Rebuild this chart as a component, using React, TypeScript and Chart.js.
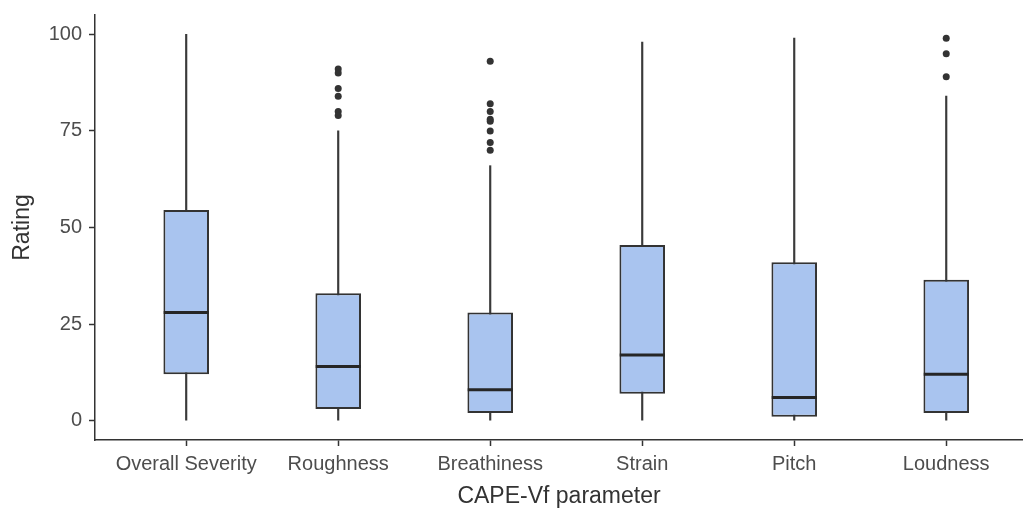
import React, { useEffect, useRef } from 'react';
import { Chart, registerables } from 'chart.js';

Chart.register(...registerables);

const categories = ['Overall Severity', 'Roughness', 'Breathiness', 'Strain', 'Pitch', 'Loudness'];
const whiskerLow = [0, 0, 0, 0, 0, 0];
const q1 = [12, 3, 2, 7, 1, 2];
const median = [28, 14, 8, 17, 6, 12];
const q3 = [54.5, 33, 28, 45.5, 41, 36.5];
const whiskerHigh = [100, 75, 66, 98, 99, 84];
const outliersOverall: number[] = [];
const outliersRoughness = [91, 90, 86, 84, 80, 79];
const outliersBreathiness = [93, 82, 80, 78, 77.5, 75, 72, 70];
const outliersStrain: number[] = [];
const outliersPitch: number[] = [];
const outliersLoudness = [99, 95, 89];
const yTicks = [0, 25, 50, 75, 100];

const outliers = [outliersOverall, outliersRoughness, outliersBreathiness, outliersStrain, outliersPitch, outliersLoudness];

const FONT = "'Liberation Sans', Arial, sans-serif";

export default function App() {
  const ref = useRef<HTMLCanvasElement | null>(null);

  useEffect(() => {
    if (!ref.current) return;
    const idx = categories.map((_, i) => i);
    const chart = new Chart(ref.current, {
      type: 'bar',
      data: {
        datasets: [
          {
            type: 'bar',
            label: 'whiskers',
            data: idx.map((i) => ({ x: i, y: [whiskerLow[i], whiskerHigh[i]] })) as any,
            backgroundColor: '#3a3a3a',
            borderWidth: 0,
            barThickness: 1.5,
            grouped: false,
            order: 3,
          } as any,
          {
            type: 'bar',
            label: 'box',
            data: idx.map((i) => ({ x: i, y: [q1[i], q3[i]] })) as any,
            backgroundColor: '#a9c4ef',
            borderColor: '#333333',
            borderWidth: 2,
            borderSkipped: false,
            barPercentage: 0.3,
            categoryPercentage: 1,
            grouped: false,
            order: 2,
          } as any,
          {
            type: 'line',
            label: 'median',
            data: idx.map((i) => ({ x: i, y: median[i] })),
            showLine: false,
            pointStyle: 'line',
            pointRadius: 22.5,
            pointBorderWidth: 3,
            pointBorderColor: '#262626',
            pointBackgroundColor: '#262626',
            order: 1,
          } as any,
          {
            type: 'line',
            label: 'outliers',
            data: outliers.flatMap((arr, i) => arr.map((v) => ({ x: i, y: v }))),
            showLine: false,
            pointRadius: 3.5,
            pointBorderWidth: 0,
            pointBackgroundColor: '#333333',
            order: 0,
          } as any,
        ],
      },
      options: {
        responsive: false,
        animation: false,
        events: [],
        layout: { autoPadding: false, padding: { top: 15, right: 0, left: 0, bottom: 0 } },
        plugins: { legend: { display: false }, tooltip: { enabled: false } },
        scales: {
          x: {
            type: 'linear',
            min: -0.6,
            max: 5.505,
            offset: false,
            afterBuildTicks: (scale: any) => {
              scale.ticks = idx.map((v) => ({ value: v }));
            },
            afterFit: (scale: any) => {
              scale.height = 70;
              scale.paddingLeft = 0;
              scale.paddingRight = 0;
            },
            ticks: {
              autoSkip: false,
              maxRotation: 0,
              padding: 6,
              color: '#4d4d4d',
              font: { family: FONT, size: 20 },
              callback: (v: any) => categories[Math.round(Number(v))] ?? '',
            },
            grid: {
              offset: false,
              drawOnChartArea: false,
              drawTicks: true,
              tickLength: 6,
              tickWidth: 1.5,
              tickColor: '#333333',
            },
            border: { display: true, color: '#333333', width: 1.5 },
            title: {
              display: true,
              text: 'CAPE-Vf parameter',
              color: '#333333',
              font: { family: FONT, size: 23 },
              padding: { top: 0, bottom: 0 },
            },
          } as any,
          y: {
            type: 'linear',
            min: -5,
            max: 105,
            afterBuildTicks: (scale: any) => {
              scale.ticks = yTicks.map((v) => ({ value: v }));
            },
            afterFit: (scale: any) => {
              scale.width = 95;
              scale.paddingTop = 0;
              scale.paddingBottom = 0;
            },
            ticks: {
              padding: 7,
              color: '#4d4d4d',
              font: { family: FONT, size: 20 },
            },
            grid: {
              drawOnChartArea: false,
              drawTicks: true,
              tickLength: 6,
              tickWidth: 1.5,
              tickColor: '#333333',
            },
            border: { display: true, color: '#333333', width: 1.5 },
            title: {
              display: true,
              text: 'Rating',
              color: '#333333',
              font: { family: FONT, size: 23 },
              padding: { top: 9, bottom: 0 },
            },
          } as any,
        },
      },
    });
    return () => chart.destroy();
  }, []);

  return (
    <div style={{ position: 'absolute', left: 0, top: 0, width: 1023, height: 510, background: '#ffffff' }}>
      <canvas ref={ref} width={1023} height={510} style={{ display: 'block' }} />
    </div>
  );
}
